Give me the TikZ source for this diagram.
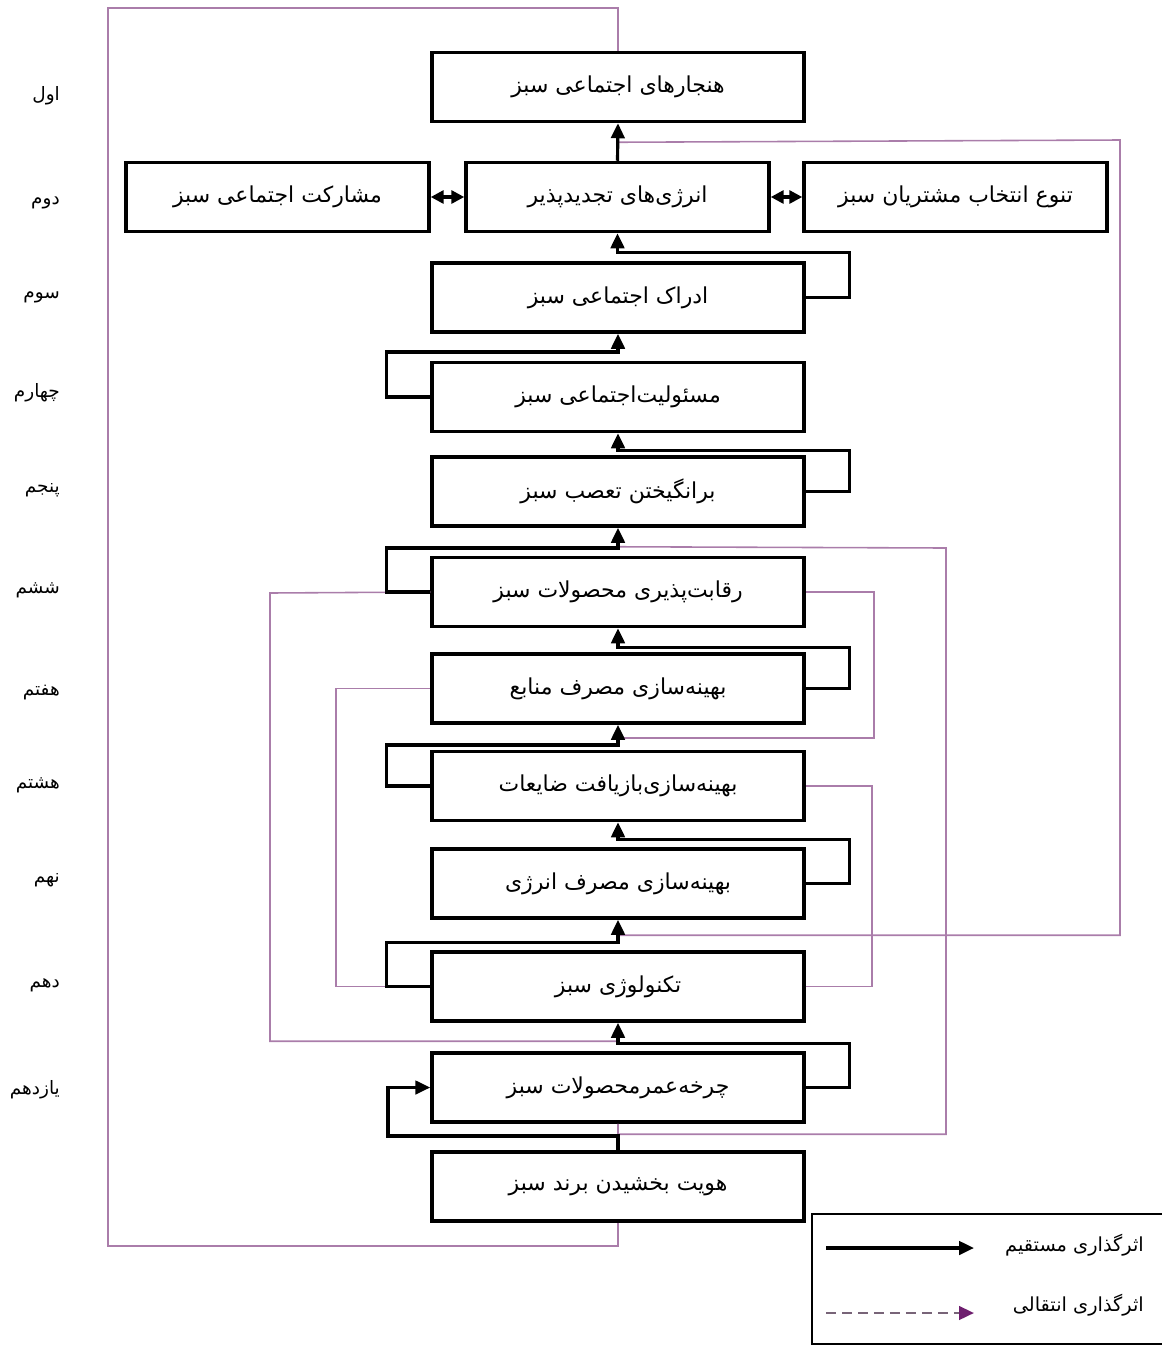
\documentclass[tikz,border=0pt]{standalone}
\usepackage{fontspec}
\usetikzlibrary{arrows.meta}
\newfontfamily\persianfont[Script=Arabic]{DejaVu Sans}
\TeXXeTstate=1
\newcommand{\fatext}[1]{{\persianfont\beginR #1\endR}}

\begin{document}
\begin{tikzpicture}[x=0.02cm,y=-0.02cm,
        factor/.style={draw, line width=2pt, minimum width=7.44cm, minimum height=1.38cm,
                       inner sep=0pt, font=\fontsize{12.5}{14}\selectfont},
        sidefactor/.style={factor, minimum width=6.06cm},
        direct/.style={line width=1.8pt, -{Triangle[length=0.3cm,width=0.27cm]}},
        twoway/.style={line width=1.8pt, {Triangle[length=0.26cm,width=0.26cm]}-{Triangle[length=0.26cm,width=0.26cm]}},
        trans/.style={draw=transcolor, line width=0.9pt},
        rank/.style={anchor=east, font=\fontsize{10.5}{12}\selectfont}]
        \useasboundingbox (0,0) rectangle (1161,1346);

        \definecolor{transcolor}{RGB}{170,125,170}
        \definecolor{legendgrey}{RGB}{120,100,120}
        \definecolor{legendpurple}{RGB}{110,30,110}

        % factors, top to bottom
        \node[factor] (r1) at (618,87) {\fatext{هنجارهای اجتماعی سبز}};
        \node[sidefactor] (r2) at (617.5,197) {\fatext{انرژی‌های تجدیدپذیر}};
        \node[sidefactor] (l2) at (277.5,197) {\fatext{مشارکت اجتماعی سبز}};
        \node[sidefactor] (rr2) at (955.5,197) {\fatext{تنوع انتخاب مشتریان سبز}};
        \node[factor] (r3) at (618,297.5) {\fatext{ادراک اجتماعی سبز}};
        \node[factor] (r4) at (618,397) {\fatext{مسئولیت‌اجتماعی سبز}};
        \node[factor] (r5) at (618,491.5) {\fatext{برانگیختن تعصب سبز}};
        \node[factor] (r6) at (618,592) {\fatext{رقابت‌پذیری محصولات سبز}};
        \node[factor] (r7) at (618,688.5) {\fatext{بهینه‌سازی مصرف منابع}};
        \node[factor] (r8) at (618,786) {\fatext{بهینه‌سازی‌بازیافت ضایعات}};
        \node[factor] (r9) at (618,883.5) {\fatext{بهینه‌سازی مصرف انرژی}};
        \node[factor] (r10) at (618,986.5) {\fatext{تکنولوژی سبز}};
        \node[factor] (r11) at (618,1087.5) {\fatext{چرخه‌عمرمحصولات سبز}};
        \node[factor] (r12) at (618,1186.5) {\fatext{هویت بخشیدن برند سبز}};

        % junction points on the main column
        \path (r6.north) ++(0,-9) coordinate (j6);
        \path (r8.north) ++(0,-12) coordinate (j8);
        \path (r10.north) ++(0,-15) coordinate (j10);
        \path (r11.north) ++(0,-10) coordinate (j11);
        \path (r12.north) ++(0,-16) coordinate (j12);
        \path (r1.south) ++(0,19) coordinate (j1);

        % transitive effects
        \draw[trans] (r12.south) -- ++(0,23) -| (108,8) -| (r1.north);
        \draw[trans] (j10) -| (1120,140) -- (j1);
        \draw[trans] (r11.south) -- (j12) -| (946,548) -- (j6);
        \draw[trans] (j11) -| (270,593) -- (r6.west);
        \draw[trans] (r10.west) -- ++(-94,0) |- (r7.west);
        \draw[trans] (j8) -- ++(256,0) |- (r6.east);
        \draw[trans] (r10.east) -- ++(66,0) |- (r8.east);

        % direct effects
        \draw[direct] (r2.north) -- (r1.south);
        \draw[twoway] (l2.east) -- (r2.west);
        \draw[twoway] (r2.east) -- (rr2.west);
        \draw[direct] (r3.east) -| ++(44,-45) -| (r2.south);
        \draw[direct] (r4.west) -| ++(-44,-45) -| (r3.south);
        \draw[direct] (r5.east) -| ++(44,-41) -| (r4.south);
        \draw[direct] (r6.west) -| ++(-44,-44) -| (r5.south);
        \draw[direct] (r7.east) -| ++(44,-41) -| (r6.south);
        \draw[direct] (r8.west) -| ++(-44,-41) -| (r7.south);
        \draw[direct] (r9.east) -| ++(44,-44) -| (r8.south);
        \draw[direct] (r10.west) -| ++(-44,-44) -| (r9.south);
        \draw[direct] (r11.east) -| ++(44,-44) -| (r10.south);
        \draw[direct] (r12.north) |- (388,1136) |- (r11.west);

        % levels
        \node[rank] (o1) at (66,96) {\fatext{اول}};
        \node[rank] (o2) at (66,203) {\fatext{دوم}};
        \node[rank] (o3) at (66,297) {\fatext{سوم}};
        \node[rank] (o4) at (66,393) {\fatext{چهارم}};
        \node[rank] (o5) at (66,490) {\fatext{پنجم}};
        \node[rank] (o6) at (66,590) {\fatext{ششم}};
        \node[rank] (o7) at (66,693) {\fatext{هفتم}};
        \node[rank] (o8) at (66,785) {\fatext{هشتم}};
        \node[rank] (o9) at (66,880) {\fatext{نهم}};
        \node[rank] (o10) at (66,985) {\fatext{دهم}};
        \node[rank] (o11) at (66,1090) {\fatext{یازدهم}};

        % legend
        \draw[line width=1.6pt] (1180,1214) -- (812,1214) -- (812,1344) -- (1180,1344);
        \coordinate (lga) at (826,1248);
        \coordinate (lgb) at (974,1248);
        \coordinate (lgc) at (826,1313);
        \coordinate (lgd) at (974,1313);
        \draw[direct] (lga) -- (lgb);
        \draw[line width=1.6pt, draw=legendgrey, dash pattern=on 0.2cm off 0.12cm,
              -{Triangle[length=0.3cm,width=0.27cm,color=legendpurple]}] (lgc) -- (lgd);
        \node[anchor=east, font=\fontsize{11}{13}\selectfont] (lgt1) at (1150,1245) {\fatext{اثرگذاری مستقیم}};
        \node[anchor=east, font=\fontsize{11}{13}\selectfont] (lgt2) at (1150,1305) {\fatext{اثرگذاری انتقالی}};
\end{tikzpicture}
\end{document}
